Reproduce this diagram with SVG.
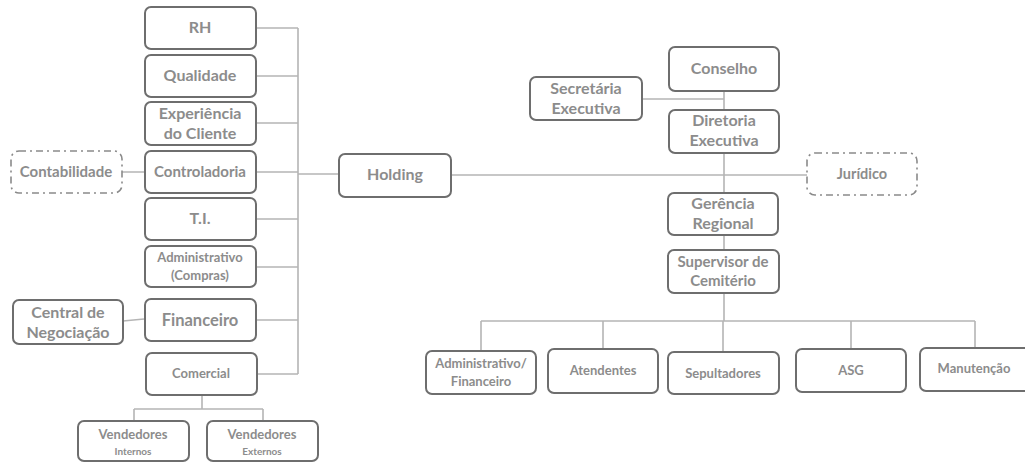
<svg xmlns="http://www.w3.org/2000/svg" width="1025" height="463" viewBox="0 0 1025 463">
<style>
.b{fill:#fff;stroke:#6e6e6e;stroke-width:2}
.d{fill:#fff;stroke:#8a8a8a;stroke-width:1.6;stroke-dasharray:7,4,2,4}
.c{fill:none;stroke:#b5b5b5;stroke-width:1.6}
text{font-family:Lato,"Open Sans","Liberation Sans",sans-serif;font-weight:bold;fill:#8c8c8c;text-anchor:middle}
.m{font-size:16px}
.s{font-size:13px}
</style>
<rect width="1025" height="463" fill="#fff"/>
<g id="connectors">
<path class="c" d="M298 28V374M256 28H298M256 76H298M256 123H298M256 172H298M256 219H298M256 267H298M256 320H298M256 374H298M298 174H339"/>
<path class="c" d="M122 172H144M123 321L144 319"/>
<path class="c" d="M202 395V409M134 409H263M134 409V421M263 409V421"/>
<path class="c" d="M451 175H807M642 99H724M724 91V110M724 153V193M724 235V250M724 293V321"/>
<path class="c" d="M481 321H975M481 321V351M603 321V349M723 321V352M851 321V349M975 321V348"/>
</g>
<g id="rh"><rect class="b" x="145" y="7" width="111" height="42" rx="6"/><text class="m" x="200" y="33">RH</text></g>
<g id="qualidade"><rect class="b" x="145" y="55" width="111" height="42" rx="6"/><text class="m" x="200" y="81">Qualidade</text></g>
<g id="experiencia"><rect class="b" x="145" y="102" width="111" height="43" rx="6"/><text class="m" x="200" y="119">Experiência</text><text class="m" x="200" y="139">do Cliente</text></g>
<g id="controladoria"><rect class="b" x="145" y="151" width="111" height="42" rx="6"/><text x="200" y="177" font-size="15">Controladoria</text></g>
<g id="contabilidade"><rect class="d" x="11" y="151" width="111" height="42" rx="8"/><text x="66" y="177" font-size="15">Contabilidade</text></g>
<g id="ti"><rect class="b" x="145" y="198" width="111" height="42" rx="6"/><text class="m" x="200" y="224">T.I.</text></g>
<g id="administrativo"><rect class="b" x="145" y="246" width="111" height="41" rx="6"/><text class="s" x="200" y="262">Administrativo</text><text class="s" x="200" y="280">(Compras)</text></g>
<g id="financeiro"><rect class="b" x="145" y="299" width="111" height="42" rx="6"/><text x="200" y="326" font-size="16.5">Financeiro</text></g>
<g id="central"><rect class="b" x="13" y="300" width="110" height="44" rx="6"/><text class="m" x="68" y="318">Central de</text><text class="m" x="68" y="338">Negociação</text></g>
<g id="comercial"><rect class="b" x="146" y="353" width="111" height="42" rx="6"/><text class="s" x="201" y="378">Comercial</text></g>
<g id="vend-int"><rect class="b" x="78" y="421" width="111" height="40" rx="6"/><text class="s" x="133" y="439">Vendedores</text><text x="133" y="455" font-size="10">Internos</text></g>
<g id="vend-ext"><rect class="b" x="207" y="421" width="111" height="40" rx="6"/><text class="s" x="262" y="439">Vendedores</text><text x="262" y="455" font-size="10">Externos</text></g>
<g id="holding"><rect class="b" x="339" y="154" width="112" height="43" rx="6"/><text class="m" x="395" y="180">Holding</text></g>
<g id="juridico"><rect class="d" x="807" y="153" width="110" height="42" rx="8"/><text x="862" y="179" font-size="14.5">Jurídico</text></g>
<g id="secretaria"><rect class="b" x="530" y="77" width="112" height="43" rx="6"/><text class="m" x="586" y="94">Secretária</text><text class="m" x="586" y="114">Executiva</text></g>
<g id="conselho"><rect class="b" x="669" y="47" width="110" height="44" rx="6"/><text class="m" x="724" y="74">Conselho</text></g>
<g id="diretoria"><rect class="b" x="669" y="110" width="110" height="43" rx="6"/><text class="m" x="724" y="126">Diretoria</text><text class="m" x="724" y="146">Executiva</text></g>
<g id="gerencia"><rect class="b" x="668" y="193" width="110" height="42" rx="6"/><text class="m" x="723" y="209">Gerência</text><text class="m" x="723" y="229">Regional</text></g>
<g id="supervisor"><rect class="b" x="668" y="250" width="111" height="43" rx="6"/><text x="723" y="267" font-size="15">Supervisor de</text><text x="723" y="286" font-size="15">Cemitério</text></g>
<g id="adm-fin"><rect class="b" x="426" y="351" width="110" height="43" rx="6"/><text class="s" x="481" y="368">Administrativo/</text><text class="s" x="481" y="386">Financeiro</text></g>
<g id="atendentes"><rect class="b" x="548" y="349" width="110" height="44" rx="6"/><text class="s" x="603" y="375">Atendentes</text></g>
<g id="sepultadores"><rect class="b" x="668" y="352" width="111" height="42" rx="6"/><text class="s" x="723" y="378">Sepultadores</text></g>
<g id="asg"><rect class="b" x="796" y="349" width="110" height="43" rx="6"/><text class="s" x="851" y="375">ASG</text></g>
<g id="manutencao"><rect class="b" x="920" y="348" width="110" height="43" rx="6"/><text class="s" x="974" y="373">Manutenção</text></g>
</svg>
